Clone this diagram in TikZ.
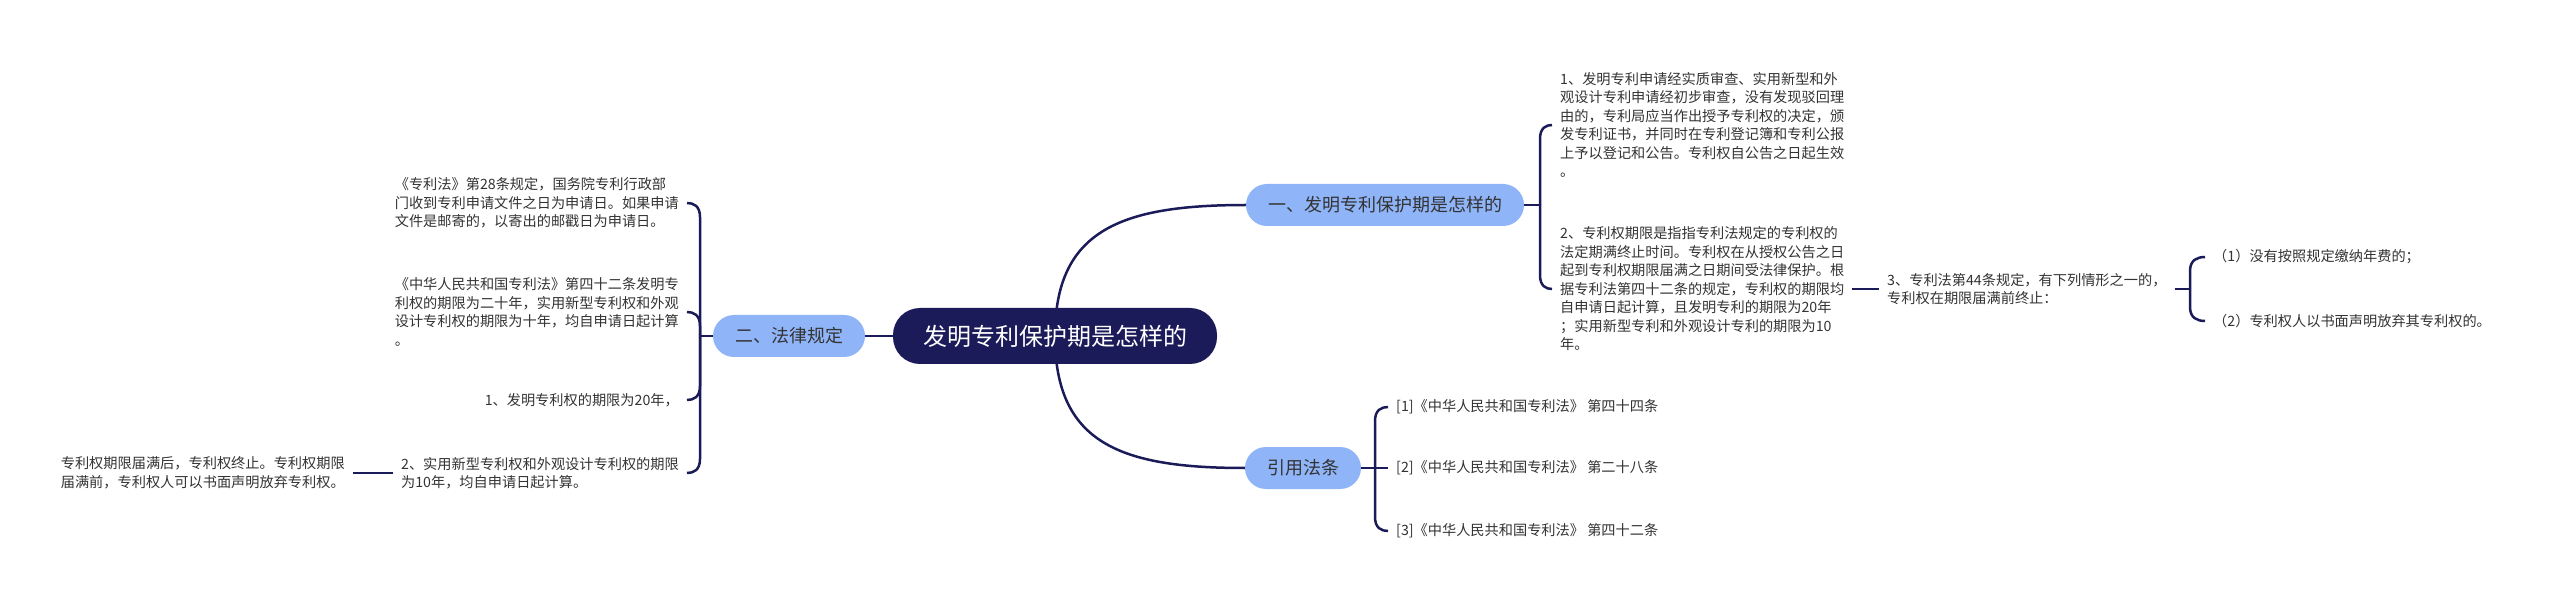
\documentclass[tikz,border=0pt]{standalone}
\usepackage{fontspec}
\setmainfont{Noto Sans CJK SC}
\usetikzlibrary{calc}
\definecolor{navy}{RGB}{28,27,90}
\definecolor{lblue}{RGB}{143,180,247}
\definecolor{txtc}{RGB}{51,51,51}
\pgfdeclarelayer{bg}
\pgfsetlayers{bg,main}
\begin{document}
\begin{tikzpicture}[x=1pt,y=-1pt,
  rootbox/.style={fill=navy, text=white, rounded corners=27pt, minimum height=56pt, inner xsep=30pt, font=\fontsize{24}{28}\selectfont},
  subbox/.style={fill=lblue, text=txtc, rounded corners=21pt, minimum height=42pt, inner xsep=22pt, font=\fontsize{18}{22}\selectfont},
  leaf/.style={text=txtc, align=left, inner xsep=8pt, inner ysep=2pt, font=\fontsize{14.2}{18.5}\selectfont},
  conn/.style={draw=navy, line width=2.5pt},
  brace/.style={to path={-- ($(\tikztostart |- \tikztotarget)+(0,#1)$) .. controls ($(\tikztostart |- \tikztotarget)+(0,{0.2*#1})$) and ($(\tikztostart |- \tikztotarget)!0.5!(\tikztotarget)$) .. (\tikztotarget)}}
]
\begin{pgfonlayer}{bg}
\fill[white] (0,0) rectangle (2560,609);
\end{pgfonlayer}
\useasboundingbox (0,0) rectangle (2560,609);

% main nodes
\node[rootbox] (root) at (1055,336) {发明专利保护期是怎样的};
\node[subbox] (s1) at (1385,205) {一、发明专利保护期是怎样的};
\node[subbox] (s2) at (789,336) {二、法律规定};
\node[subbox] (s3) at (1303,468) {引用法条};

% right side leaves
\node[leaf, anchor=west] (r1) at (1552,125) {1、发明专利申请经实质审查、实用新型和外\\观设计专利申请经初步审查，没有发现驳回理\\由的，专利局应当作出授予专利权的决定，颁\\发专利证书，并同时在专利登记簿和专利公报\\上予以登记和公告。专利权自公告之日起生效\\。};
\node[leaf, anchor=west] (r2) at (1552,289) {2、专利权期限是指指专利法规定的专利权的\\法定期满终止时间。专利权在从授权公告之日\\起到专利权期限届满之日期间受法律保护。根\\据专利法第四十二条的规定，专利权的期限均\\自申请日起计算，且发明专利的期限为20年\\；实用新型专利和外观设计专利的期限为10\\年。};
\node[leaf, anchor=west] (n3) at (1879,289) {3、专利法第44条规定，有下列情形之一的，\\专利权在期限届满前终止：};
\node[leaf, anchor=west] (i1) at (2205,257) {（1）没有按照规定缴纳年费的；};
\node[leaf, anchor=west] (i2) at (2205,321) {（2）专利权人以书面声明放弃其专利权的。};
\node[leaf, anchor=west] (f1) at (1388,407) {[1]《中华人民共和国专利法》 第四十四条};
\node[leaf, anchor=west] (f2) at (1388,468) {[2]《中华人民共和国专利法》 第二十八条};
\node[leaf, anchor=west] (f3) at (1388,531) {[3]《中华人民共和国专利法》 第四十二条};

% left side leaves
\node[leaf, anchor=east] (l1) at (687,203) {《专利法》第28条规定，国务院专利行政部\\门收到专利申请文件之日为申请日。如果申请\\文件是邮寄的，以寄出的邮戳日为申请日。};
\node[leaf, anchor=east] (l2) at (687,312) {《中华人民共和国专利法》第四十二条发明专\\利权的期限为二十年，实用新型专利权和外观\\设计专利权的期限为十年，均自申请日起计算\\。};
\node[leaf, anchor=east] (l3) at (687,400) {1、发明专利权的期限为20年，};
\node[leaf, anchor=east] (l4) at (687,473) {2、实用新型专利权和外观设计专利权的期限\\为10年，均自申请日起计算。};
\node[leaf, anchor=east] (l5) at (353,473) {专利权期限届满后，专利权终止。专利权期限\\届满前，专利权人可以书面声明放弃专利权。};

% junctions
\coordinate (jL) at (700,336);
\coordinate (jR) at (1540,205);
\coordinate (jF) at (1375,468);
\coordinate (jN) at (2190,289);

\begin{pgfonlayer}{bg}
\draw[conn] (root.center) .. controls +(0,-106) and +(-125,0) .. (s1.west);
\draw[conn] (root.center) .. controls +(0,107) and +(-125,0) .. (s3.west);
\draw[conn] (root.center) -- (s2.center);

\draw[conn] (s2.west) -- (jL);
\draw[conn] (jL) to[brace=14] (l1.east);
\draw[conn] (jL) to[brace=14] (l2.east);
\draw[conn] (jL) to[brace=-14] (l3.east);
\draw[conn] (jL) to[brace=-14] (l4.east);
\draw[conn] (l4.west) -- (l5.east);

\draw[conn] (s1.east) -- (jR);
\draw[conn] (jR) to[brace=14] (r1.west);
\draw[conn] (jR) to[brace=-14] (r2.west);
\draw[conn] (r2.east) -- (n3.west);

\draw[conn] (n3.east) -- (jN);
\draw[conn] (jN) to[brace=14] (i1.west);
\draw[conn] (jN) to[brace=-14] (i2.west);

\draw[conn] (s3.east) -- (f2.west);
\draw[conn] (jF) to[brace=14] (f1.west);
\draw[conn] (jF) to[brace=-14] (f3.west);
\end{pgfonlayer}
\end{tikzpicture}
\end{document}
